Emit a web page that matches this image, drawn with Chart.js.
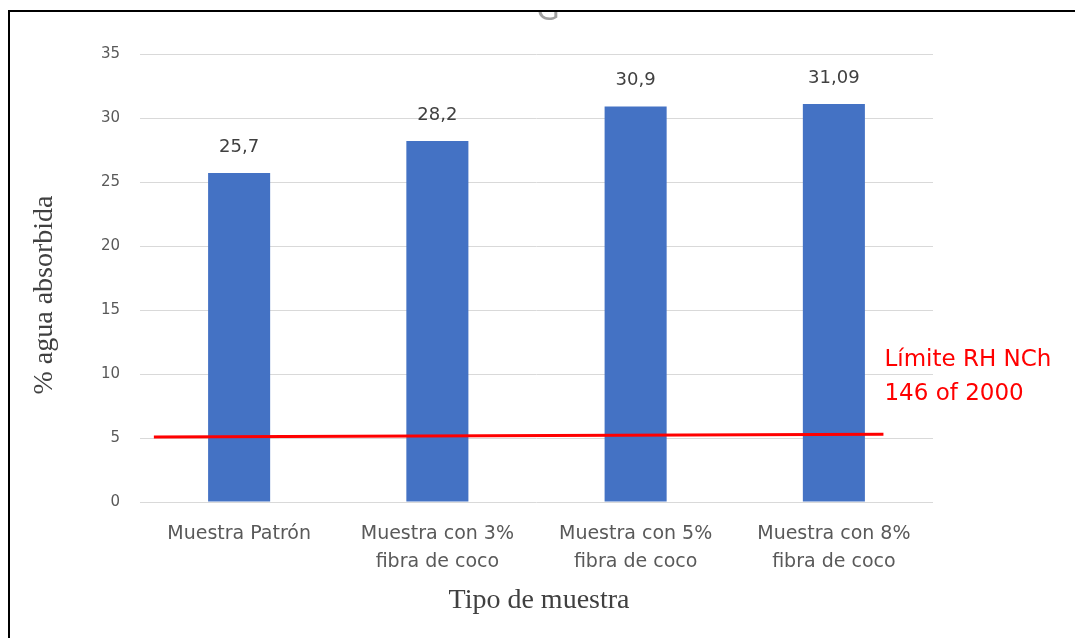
<!DOCTYPE html>
<html><head><meta charset="utf-8">
<script src="https://cdn.jsdelivr.net/npm/chart.js@4.4.1/dist/chart.umd.min.js"></script>
<style>html,body{margin:0;padding:0;background:#fff;}#wrap{width:1075px;height:638px;}</style>
</head><body><div id="wrap"><canvas id="c" width="1075" height="638"></canvas></div>
<script>
const categories = [["Muestra Patrón"], ["Muestra con 3%", "fibra de coco"], ["Muestra con 5%", "fibra de coco"], ["Muestra con 8%", "fibra de coco"]];
const absorption = [25.7, 28.2, 30.9, 31.09];
const valueLabels = ["25,7", "28,2", "30,9", "31,09"];
const limitLine = [{x: 0.07, y: 5.08}, {x: 3.75, y: 5.3}];
const limitText = ["Límite RH NCh", "146 of 2000"];
const yTicks = [0, 5, 10, 15, 20, 25, 30, 35];
const yTitle = "% agua absorbida";
const xTitle = "Tipo de muestra";

const overlay = {
  id: 'overlay',
  afterDatasetsDraw(chart) {
    const ctx = chart.ctx;
    const meta = chart.getDatasetMeta(0);
    ctx.save();
    ctx.fillStyle = '#404040';
    ctx.font = '18px "DejaVu Sans", sans-serif';
    ctx.textAlign = 'center';
    ctx.textBaseline = 'middle';
    meta.data.forEach((bar, i) => {
      ctx.fillText(valueLabels[i], bar.x, bar.y - 26);
    });
    // limit annotation
    const lm = chart.getDatasetMeta(1);
    const endPt = lm.data[lm.data.length - 1];
    ctx.fillStyle = '#ff0000';
    ctx.font = '23px "DejaVu Sans", sans-serif';
    ctx.textAlign = 'left';
    ctx.fillText(limitText[0], endPt.x + 1, 360);
    ctx.fillText(limitText[1], endPt.x + 1, 394);
    // axis titles
    ctx.fillStyle = '#404040';
    ctx.font = '28px "Liberation Serif", "Times New Roman", serif';
    ctx.textAlign = 'center';
    ctx.textBaseline = 'alphabetic';
    ctx.fillText(xTitle, 539, 608);
    ctx.translate(52, 295);
    ctx.rotate(-Math.PI / 2);
    ctx.fillText(yTitle, 0, 0);
    ctx.restore();
    // partial title glyph cut by frame
    ctx.save();
    ctx.fillStyle = '#a0a0a0';
    ctx.font = '30px "DejaVu Sans", sans-serif';
    ctx.textAlign = 'center';
    ctx.textBaseline = 'alphabetic';
    ctx.fillText('G', 548, 20);
    ctx.fillStyle = '#fff';
    ctx.fillRect(0, 0, 1075, 10);
    ctx.fillStyle = '#000';
    ctx.fillRect(8, 10, 1067, 2);
    ctx.fillRect(8, 10, 2, 628);
    ctx.restore();
  }
};

new Chart(document.getElementById('c'), {
  type: 'bar',
  data: {
    labels: categories,
    datasets: [{
      data: absorption,
      backgroundColor: '#4472C4',
      barPercentage: 0.313,
      categoryPercentage: 1,
      grouped: false,
      order: 2
    }, {
      type: 'line',
      data: limitLine,
      xAxisID: 'x2',
      borderColor: '#ff0000',
      borderWidth: 3,
      pointRadius: 0,
      fill: false,
      order: 1
    }]
  },
  options: {
    responsive: false,
    animation: false,
    devicePixelRatio: 1,
    layout: { padding: { left: 9, right: 142, top: 54, bottom: 0 } },
    plugins: { legend: { display: false }, tooltip: { enabled: false }, title: { display: false } },
    scales: {
      x: {
        grid: { display: false },
        border: { display: false },
        ticks: { color: '#595959', font: { family: '"DejaVu Sans", sans-serif', size: 19, lineHeight: 1.47 }, maxRotation: 0, autoSkip: false, padding: 10 },
        afterFit(s) { s.height = 136; }
      },
      x2: { type: 'linear', min: 0, max: 4, display: false, offset: false },
      y: {
        min: 0, max: 35,
        afterBuildTicks(s) { s.ticks = yTicks.map(v => ({ value: v })); },
        grid: { color: '#d9d9d9', drawTicks: false, lineWidth: 1 },
        border: { display: false },
        ticks: { color: '#595959', font: { family: '"DejaVu Sans", sans-serif', size: 15 }, padding: 20 },
        afterFit(s) { s.width = 131; }
      }
    }
  },
  plugins: [overlay]
});
</script></body></html>
